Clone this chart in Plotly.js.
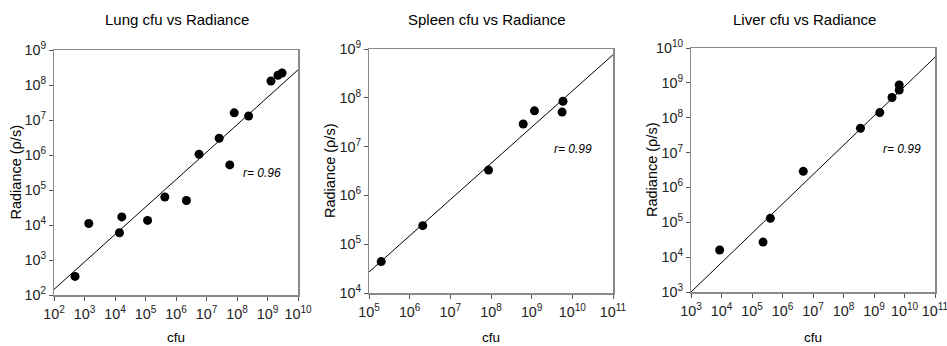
<!DOCTYPE html>
<html>
<head>
<meta charset="utf-8">
<script src="https://cdn.plot.ly/plotly-3.0.1.min.js"></script>
<style>html,body{margin:0;padding:0;background:#fff;}#chart{width:947px;height:346px;}</style>
</head>
<body>
<div id="chart"></div>
<script>
// ---- Data ----
const panelTitles = ["Lung cfu vs Radiance", "Spleen cfu vs Radiance", "Liver cfu vs Radiance"];
const rLabels = ["r= 0.96", "r= 0.99", "r= 0.99"];

const lungCfu = [490, 1380, 14000, 16700, 117000, 430000, 2200000, 5700000, 26000000, 58000000, 81000000, 240000000, 1.3e9, 2.2e9, 3.0e9];
const lungRad = [340, 11000, 6000, 17000, 13500, 63000, 50000, 1050000, 3000000, 520000, 16000000, 13000000, 1.3e8, 1.9e8, 2.2e8];

const spleenCfu = [2.0e5, 2.1e6, 8.7e7, 6.2e8, 1.17e9, 5.6e9, 5.9e9];
const spleenRad = [4.4e4, 2.4e5, 3.3e6, 2.9e7, 5.4e7, 5.1e7, 8.5e7];

const liverCfu = [8.7e3, 2.3e5, 4.0e5, 4.8e6, 3.6e8, 1.55e9, 3.9e9, 6.7e9, 6.7e9];
const liverRad = [1.6e4, 2.7e4, 1.3e5, 2.9e6, 5.0e7, 1.4e8, 3.8e8, 6.2e8, 8.7e8];

// log-log regression line: log10(rad) = slope*log10(cfu) + intercept
const fitSlope = [0.784, 0.742, 0.842];
const fitIntercept = [0.592, 0.72, 0.474];

// axis ranges (decades)
const xRanges = [[2, 10], [5, 11], [3, 11]];
const yRanges = [[2, 9], [4, 9], [3, 10]];

// ---- Layout (pixel boxes) ----
const W = 947, H = 346;
const boxes = [
  {l: 54, r: 298, t: 50, b: 295},
  {l: 369, r: 613, t: 49, b: 293},
  {l: 691, r: 935, t: 48, b: 292}
];
const titleX = [177, 487, 804];
const rPos = [[262, 173], [573, 149], [902, 149]];

const cfus = [lungCfu, spleenCfu, liverCfu];
const rads = [lungRad, spleenRad, liverRad];

const FONT = "Liberation Sans, Arial, sans-serif";
const traces = [];
const layout = {
  width: W, height: H,
  margin: {l: 0, r: 0, t: 0, b: 0},
  paper_bgcolor: "#fff", plot_bgcolor: "#fff",
  showlegend: false,
  font: {family: FONT, color: "#000"},
  annotations: []
};

for (let i = 0; i < 3; i++) {
  const sx = i === 0 ? "" : String(i + 1);
  const xa = "x" + sx, ya = "y" + sx;
  // regression line
  const lx = [Math.pow(10, xRanges[i][0]), Math.pow(10, xRanges[i][1])];
  const ly = lx.map(v => Math.pow(10, fitSlope[i] * Math.log10(v) + fitIntercept[i]));
  traces.push({x: lx, y: ly, xaxis: xa, yaxis: ya, mode: "lines", type: "scatter",
    line: {color: "#000", width: 1}, hoverinfo: "skip"});
  traces.push({x: cfus[i], y: rads[i], xaxis: xa, yaxis: ya, mode: "markers", type: "scatter",
    marker: {color: "#000", size: 9}, cliponaxis: false});

  const b = boxes[i];
  const axCommon = {
    type: "log", dtick: 1, exponentformat: "power", showgrid: false, zeroline: false,
    showline: true, linecolor: "#8a8a8a", linewidth: 1.5, mirror: true,
    ticks: "outside", ticklen: 4, tickcolor: "#555", tickwidth: 1,
    ticklabeloverflow: "allow",
    tickfont: {size: 11.5, color: "#222", family: FONT}
  };
  layout["xaxis" + sx] = Object.assign({}, axCommon, {
    range: xRanges[i], domain: [b.l / W, b.r / W], anchor: ya, ticklabelstandoff: 2
  });
  layout["yaxis" + sx] = Object.assign({}, axCommon, {
    range: yRanges[i], domain: [(H - b.b) / H, (H - b.t) / H], anchor: xa
  });

  // panel title
  layout.annotations.push({text: panelTitles[i], xref: "paper", yref: "paper",
    x: titleX[i] / W, y: (H - 20) / H, xanchor: "center", yanchor: "middle", showarrow: false,
    font: {size: 15, color: "#000", family: FONT}});
  // x title
  layout.annotations.push({text: "cfu", xref: "paper", yref: "paper",
    x: (b.l + b.r) / 2 / W, y: (H - 337) / H, xanchor: "center", yanchor: "middle", showarrow: false,
    font: {size: 13.5, color: "#000", family: FONT}});
  // y title
  layout.annotations.push({text: "Radiance (ρ/s)", xref: "paper", yref: "paper",
    x: (b.l - 39) / W, y: (H - (b.t + b.b) / 2) / H, xanchor: "center", yanchor: "middle", showarrow: false,
    textangle: -90,
    font: {size: 14.5, color: "#000", family: FONT}});
  // r label
  layout.annotations.push({text: "<i>" + rLabels[i] + "</i>", xref: "paper", yref: "paper",
    x: rPos[i][0] / W, y: (H - rPos[i][1]) / H, xanchor: "center", yanchor: "middle", showarrow: false,
    font: {size: 12, color: "#000", family: FONT}});
}

Plotly.newPlot("chart", traces, layout, {displayModeBar: false, staticPlot: true});
</script>
</body>
</html>
